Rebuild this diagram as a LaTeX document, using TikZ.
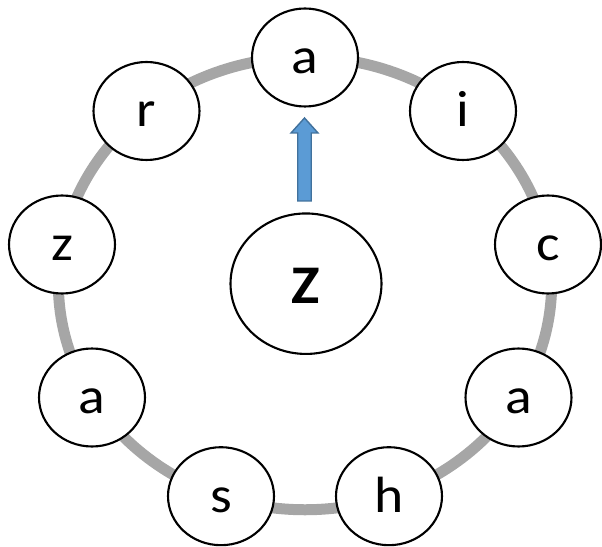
\documentclass[tikz,border=0pt]{standalone}
\usepackage{fontspec}
\usepackage{graphicx}
\setmainfont{Carlito}
\usetikzlibrary{shapes.geometric}
\definecolor{ringgray}{HTML}{A6A6A6}
\definecolor{arrowfill}{HTML}{5B9BD5}
\definecolor{arrowline}{HTML}{41719C}
\newcommand{\widetxt}[1]{\scalebox{1.09}[1]{#1}}
\begin{document}
\begin{tikzpicture}[x=0.02cm,y=-0.02cm,
  letter/.style={ellipse, draw=black, line width=1.2pt, fill=white,
    minimum width=2.12cm, minimum height=1.96cm, inner sep=0pt,
    font=\fontsize{29}{29}\selectfont, text height=20pt, text depth=1.8pt},
  hub/.style={ellipse, draw=black, line width=1.2pt, fill=white,
    minimum width=3.02cm, minimum height=2.81cm, inner sep=0pt,
    font=\fontsize{31}{31}\selectfont\bfseries, text height=24pt, text depth=1.2pt},
  ring/.style={draw=ringgray, line width=0.22cm},
  blockarrow/.style={draw=arrowline, fill=arrowfill, line width=0.8pt, line join=miter}]
\useasboundingbox (0,0) rectangle (602,547);
\coordinate (mid) at (305,283.5);
\draw[ring] (mid) ellipse [x radius=4.934cm, y radius=4.526cm];
\node[letter] (n1) at (305,57.5) {\widetxt{a}};
\node[letter] (n2) at (463,111) {\widetxt{i}};
\node[letter] (n3) at (548,244.5) {\widetxt{c}};
\node[letter] (n4) at (518.5,397.5) {\widetxt{a}};
\node[letter] (n5) at (389,496.2) {\widetxt{h}};
\node[letter] (n6) at (221,496.2) {\widetxt{s}};
\node[letter] (n7) at (92,397.5) {\widetxt{a}};
\node[letter] (n8) at (62,244.5) {\widetxt{z}};
\node[letter] (n9) at (146.5,111) {\widetxt{r}};
\node[hub] (hubZ) at (306,283.7) {\widetxt{Z}};
\coordinate (tip) at (304.5,118);
\coordinate (base) at (304.5,201);
\draw[blockarrow] ([xshift=-0.135cm]base) -- ([xshift=-0.135cm,yshift=-0.3cm]tip)
  -- ([xshift=-0.27cm,yshift=-0.3cm]tip) -- (tip) -- ([xshift=0.27cm,yshift=-0.3cm]tip)
  -- ([xshift=0.135cm,yshift=-0.3cm]tip) -- ([xshift=0.135cm]base) -- cycle;
\end{tikzpicture}
\end{document}
